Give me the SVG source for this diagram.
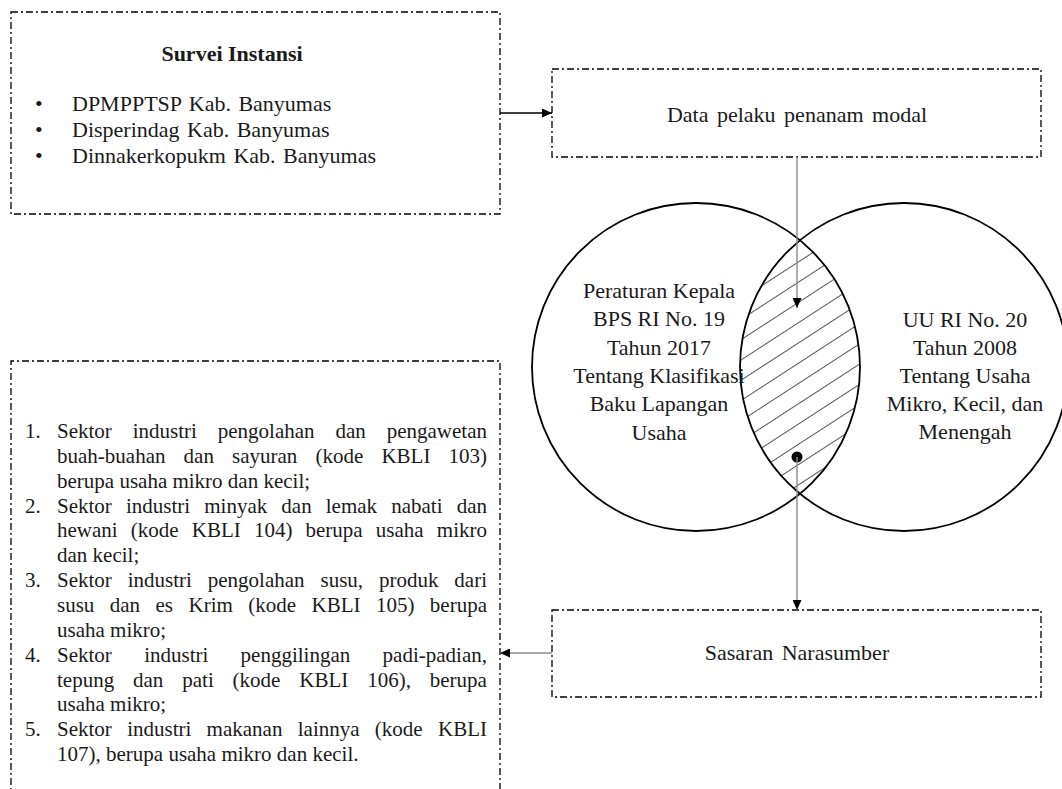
<svg xmlns="http://www.w3.org/2000/svg" width="1062" height="789" viewBox="0 0 1062 789">
<style>
  .box { fill: none; stroke: #000; stroke-width: 1.3; stroke-dasharray: 7 3 2 3; }
  .t { font-family: "Liberation Serif", "Times New Roman", serif; font-size: 22px; fill: #1a1a1a; }
  .l { font-family: "Liberation Serif", "Times New Roman", serif; font-size: 21px; fill: #1a1a1a; }
  .c { text-anchor: middle; }
  .b { font-weight: bold; }
  .conn { fill: none; stroke-width: 1.4; }
  .ring { fill: none; stroke: #000; stroke-width: 1.8; }
</style>
<defs>
  <marker id="ah" markerUnits="userSpaceOnUse" markerWidth="10" markerHeight="9" refX="10" refY="4.5" orient="auto">
    <path d="M0,0 L10,4.5 L0,9 z" fill="#000"/>
  </marker>
  <pattern id="hatch" patternUnits="userSpaceOnUse" width="17" height="17" patternTransform="rotate(-33)">
    <line x1="0" y1="8.5" x2="17" y2="8.5" stroke="#555" stroke-width="1"/>
  </pattern>
  <clipPath id="clipL"><circle cx="696" cy="367" r="164"/></clipPath>
</defs>
<rect width="1062" height="789" fill="#fff"/>

<g id="survei-instansi">
  <rect class="box" x="11" y="12" width="489" height="202"/>
  <text class="t b c" x="232" y="61">Survei Instansi</text>
  <text class="t" x="35" y="111">•</text>
  <text class="t" x="72" y="111" style="word-spacing:2px">DPMPPTSP Kab. Banyumas</text>
  <text class="t" x="35" y="137">•</text>
  <text class="t" x="72" y="137" style="word-spacing:2px">Disperindag Kab. Banyumas</text>
  <text class="t" x="35" y="163">•</text>
  <text class="t" x="72" y="163" style="word-spacing:2px">Dinnakerkopukm Kab. Banyumas</text>
</g>

<g id="data-pelaku">
  <rect class="box" x="552" y="69" width="489" height="88"/>
  <text class="t c" x="797" y="122" style="word-spacing:3px">Data pelaku penanam modal</text>
</g>

<g id="venn">
  <circle cx="904" cy="367" r="164" fill="url(#hatch)" clip-path="url(#clipL)"/>
  <circle class="ring" cx="696" cy="367" r="164"/>
  <circle class="ring" cx="904" cy="367" r="164"/>
</g>

<g id="perka-bps">
  <text class="t c" x="659" y="298">Peraturan Kepala</text>
  <text class="t c" x="659" y="326">BPS RI No. 19</text>
  <text class="t c" x="659" y="354.5">Tahun 2017</text>
  <text class="t c" x="659" y="383">Tentang Klasifikasi</text>
  <text class="t c" x="659" y="411">Baku Lapangan</text>
  <text class="t c" x="659" y="439.5">Usaha</text>
</g>

<g id="uu-umkm">
  <text class="t c" x="965" y="327">UU RI No. 20</text>
  <text class="t c" x="965" y="355">Tahun 2008</text>
  <text class="t c" x="965" y="383">Tentang Usaha</text>
  <text class="t c" x="965" y="411">Mikro, Kecil, dan</text>
  <text class="t c" x="965" y="439">Menengah</text>
</g>

<g id="sasaran-narasumber">
  <rect class="box" x="552" y="610" width="489" height="87"/>
  <text class="t c" x="797" y="660" style="word-spacing:3px">Sasaran Narasumber</text>
</g>

<g id="sektor-list">
  <path class="box" d="M11,800 L11,361 L500,361 L500,800"/>
  <text class="l" x="25" y="438">1.</text>
  <text class="l" x="57" y="438" style="word-spacing:15.65px">Sektor industri pengolahan dan pengawetan</text>
  <text class="l" x="57" y="462.85" style="word-spacing:12.87px">buah-buahan dan sayuran (kode KBLI 103)</text>
  <text class="l" x="57" y="487.7">berupa usaha mikro dan kecil;</text>
  <text class="l" x="25" y="512.55">2.</text>
  <text class="l" x="57" y="512.55" style="word-spacing:8.87px">Sektor industri minyak dan lemak nabati dan</text>
  <text class="l" x="57" y="537.4" style="word-spacing:7.9px">hewani (kode KBLI 104) berupa usaha mikro</text>
  <text class="l" x="57" y="562.25">dan kecil;</text>
  <text class="l" x="25" y="587.1">3.</text>
  <text class="l" x="57" y="587.1" style="word-spacing:10.64px">Sektor industri pengolahan susu, produk dari</text>
  <text class="l" x="57" y="611.95" style="word-spacing:10.19px">susu dan es Krim (kode KBLI 105) berupa</text>
  <text class="l" x="57" y="636.8">usaha mikro;</text>
  <text class="l" x="25" y="661.65">4.</text>
  <text class="l" x="57" y="661.65" style="word-spacing:27.06px">Sektor industri penggilingan padi-padian,</text>
  <text class="l" x="57" y="686.5" style="word-spacing:13.63px">tepung dan pati (kode KBLI 106), berupa</text>
  <text class="l" x="57" y="711.35">usaha mikro;</text>
  <text class="l" x="25" y="736.2">5.</text>
  <text class="l" x="57" y="736.2" style="word-spacing:10.06px">Sektor industri makanan lainnya (kode KBLI</text>
  <text class="l" x="57" y="761.05">107), berupa usaha mikro dan kecil.</text>
</g>

<g id="connectors">
  <line class="conn" x1="500" y1="113" x2="552" y2="113" stroke="#000" stroke-width="1.2" marker-end="url(#ah)"/>
  <line class="conn" x1="797" y1="157" x2="797" y2="308" stroke="#8c8c8c" marker-end="url(#ah)"/>
  <circle cx="797" cy="457" r="5.5" fill="#000"/>
  <line class="conn" x1="797" y1="457" x2="797" y2="610" stroke="#8c8c8c" marker-end="url(#ah)"/>
  <line class="conn" x1="552" y1="653" x2="500" y2="653" stroke="#8c8c8c" marker-end="url(#ah)"/>
</g>
</svg>
